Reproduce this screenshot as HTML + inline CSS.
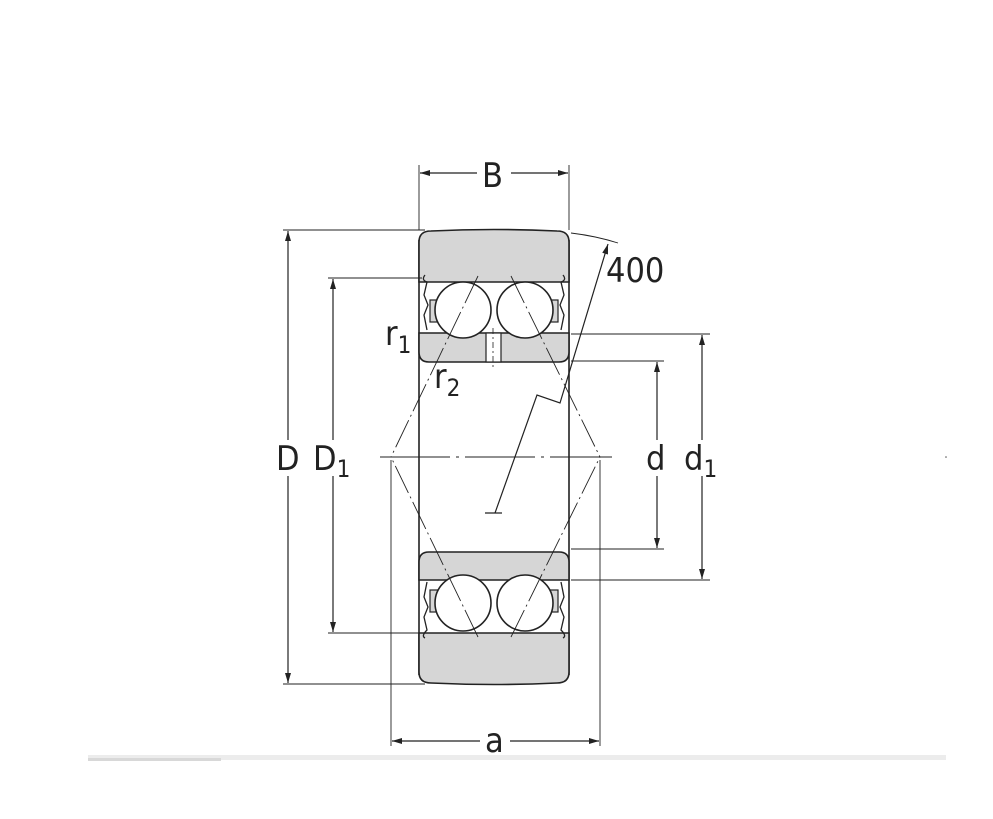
<!DOCTYPE html>
<html><head><meta charset="utf-8"><style>
html,body{margin:0;padding:0;background:#fff;}
svg{display:block;}
text{font-family:"DejaVu Sans Condensed","DejaVu Sans","Liberation Sans",sans-serif;fill:#222;font-weight:300;}
</style></head><body>
<svg width="993" height="819" viewBox="0 0 993 819" xmlns="http://www.w3.org/2000/svg">
<defs>
<marker id="ar" viewBox="0 0 10 6" refX="10" refY="3" markerWidth="12" markerHeight="6" orient="auto-start-reverse" markerUnits="userSpaceOnUse"><path d="M0,0 L10,3 L0,6 Z" fill="#222"/></marker>
</defs>
<rect x="88" y="755" width="858" height="5" fill="#ececec"/>
<rect x="88" y="758" width="133" height="3" fill="#d8d8d8"/>
<g stroke="#222" stroke-width="1.2" fill="none">
<line x1="419" y1="240" x2="419" y2="675" stroke-width="1.6"/>
<line x1="569" y1="240" x2="569" y2="675" stroke-width="1.6"/>
<path d="M419,282 L419,242 Q419,231 431,231 Q494,228 557,231 Q569,231 569,242 L569,282 Z" fill="#d6d6d6" stroke-width="1.6"/>
<path d="M419,333 L569,333 L569,352 Q569,362 559,362 L429,362 Q419,362 419,352 Z" fill="#d6d6d6" stroke-width="1.6"/>
<rect x="486" y="333" width="15" height="29" fill="#fff"/>
<line x1="493" y1="328" x2="493" y2="368" stroke-dasharray="6,3,2,3" stroke-width="0.8"/>
<rect x="430" y="300" width="8" height="22" fill="#d6d6d6"/>
<rect x="550" y="300" width="8" height="22" fill="#d6d6d6"/>
<path d="M425,275 Q421,280 427,282 L424,295 L428,305 L424,315 L427,330" stroke-width="1.3"/>
<path d="M563,275 Q567,280 561,282 L564,295 L560,305 L564,315 L561,330" stroke-width="1.3"/>
<circle cx="463" cy="310" r="28" fill="#fff" stroke-width="1.6"/>
<circle cx="525" cy="310" r="28" fill="#fff" stroke-width="1.6"/>
<path d="M419,580 L419,562 Q419,552 429,552 L559,552 Q569,552 569,562 L569,580 Z" fill="#d6d6d6" stroke-width="1.6"/>
<path d="M419,633 L569,633 L569,672 Q569,683 557,683 Q494,686 431,683 Q419,683 419,672 Z" fill="#d6d6d6" stroke-width="1.6"/>
<rect x="430" y="590" width="8" height="22" fill="#d6d6d6"/>
<rect x="550" y="590" width="8" height="22" fill="#d6d6d6"/>
<path d="M427,582 L424,597 L428,607 L424,617 L427,630 Q421,636 425,638" stroke-width="1.3"/>
<path d="M561,582 L564,597 L560,607 L564,617 L561,630 Q567,636 563,638" stroke-width="1.3"/>
<circle cx="463" cy="603" r="28" fill="#fff" stroke-width="1.6"/>
<circle cx="525" cy="603" r="28" fill="#fff" stroke-width="1.6"/>
<g stroke-width="0.9" stroke-dasharray="30,4,2,4">
<line x1="478" y1="276" x2="391" y2="457"/>
<line x1="511" y1="276" x2="600" y2="457"/>
<line x1="478" y1="637" x2="391" y2="457"/>
<line x1="511" y1="637" x2="600" y2="457"/>
</g>
<line x1="380" y1="457" x2="612" y2="457" stroke-width="0.9" stroke-dasharray="70,6,3,6"/>
<line x1="419" y1="165" x2="419" y2="230" stroke-width="0.9"/>
<line x1="569" y1="165" x2="569" y2="230" stroke-width="0.9"/>
<line x1="420" y1="173" x2="477" y2="173" marker-start="url(#ar)"/>
<line x1="511" y1="173" x2="568" y2="173" marker-end="url(#ar)"/>
<line x1="283" y1="230" x2="425" y2="230" stroke-width="0.9"/>
<line x1="283" y1="684" x2="425" y2="684" stroke-width="0.9"/>
<line x1="288" y1="231" x2="288" y2="440" marker-start="url(#ar)"/>
<line x1="288" y1="476" x2="288" y2="683" marker-end="url(#ar)"/>
<line x1="328" y1="278" x2="422" y2="278" stroke-width="0.9"/>
<line x1="328" y1="633" x2="422" y2="633" stroke-width="0.9"/>
<line x1="333" y1="279" x2="333" y2="440" marker-start="url(#ar)"/>
<line x1="333" y1="476" x2="333" y2="632" marker-end="url(#ar)"/>
<line x1="571" y1="361" x2="664" y2="361" stroke-width="0.9"/>
<line x1="571" y1="549" x2="664" y2="549" stroke-width="0.9"/>
<line x1="657" y1="362" x2="657" y2="440" marker-start="url(#ar)"/>
<line x1="657" y1="476" x2="657" y2="548" marker-end="url(#ar)"/>
<line x1="571" y1="334" x2="710" y2="334" stroke-width="0.9"/>
<line x1="571" y1="580" x2="710" y2="580" stroke-width="0.9"/>
<line x1="702" y1="335" x2="702" y2="440" marker-start="url(#ar)"/>
<line x1="702" y1="476" x2="702" y2="579" marker-end="url(#ar)"/>
<line x1="391" y1="460" x2="391" y2="746" stroke-width="0.9"/>
<line x1="600" y1="460" x2="600" y2="746" stroke-width="0.9"/>
<line x1="392" y1="741" x2="480" y2="741" marker-start="url(#ar)"/>
<line x1="510" y1="741" x2="599" y2="741" marker-end="url(#ar)"/>
<polyline points="495,513 537,395 560,403 608,244" marker-end="url(#ar)"/>
<line x1="485" y1="513" x2="502" y2="513"/>
<path d="M571,233 Q596,236 618,243" stroke-width="0.9"/>
</g>
<circle cx="946" cy="457" r="0.8" fill="#555"/>
<g font-size="34">
<text x="482" y="187">B</text>
<text x="276" y="470">D</text>
<text x="313" y="470">D<tspan font-size="24" dy="7">1</tspan></text>
<text x="646" y="470">d</text>
<text x="684" y="470">d<tspan font-size="24" dy="7">1</tspan></text>
<text x="485" y="752">a</text>
<text x="606" y="282">400</text>
<text x="385" y="345">r<tspan font-size="24" dy="8">1</tspan></text>
<text x="434" y="388">r<tspan font-size="24" dy="8">2</tspan></text>
</g>
</svg>
</body></html>
